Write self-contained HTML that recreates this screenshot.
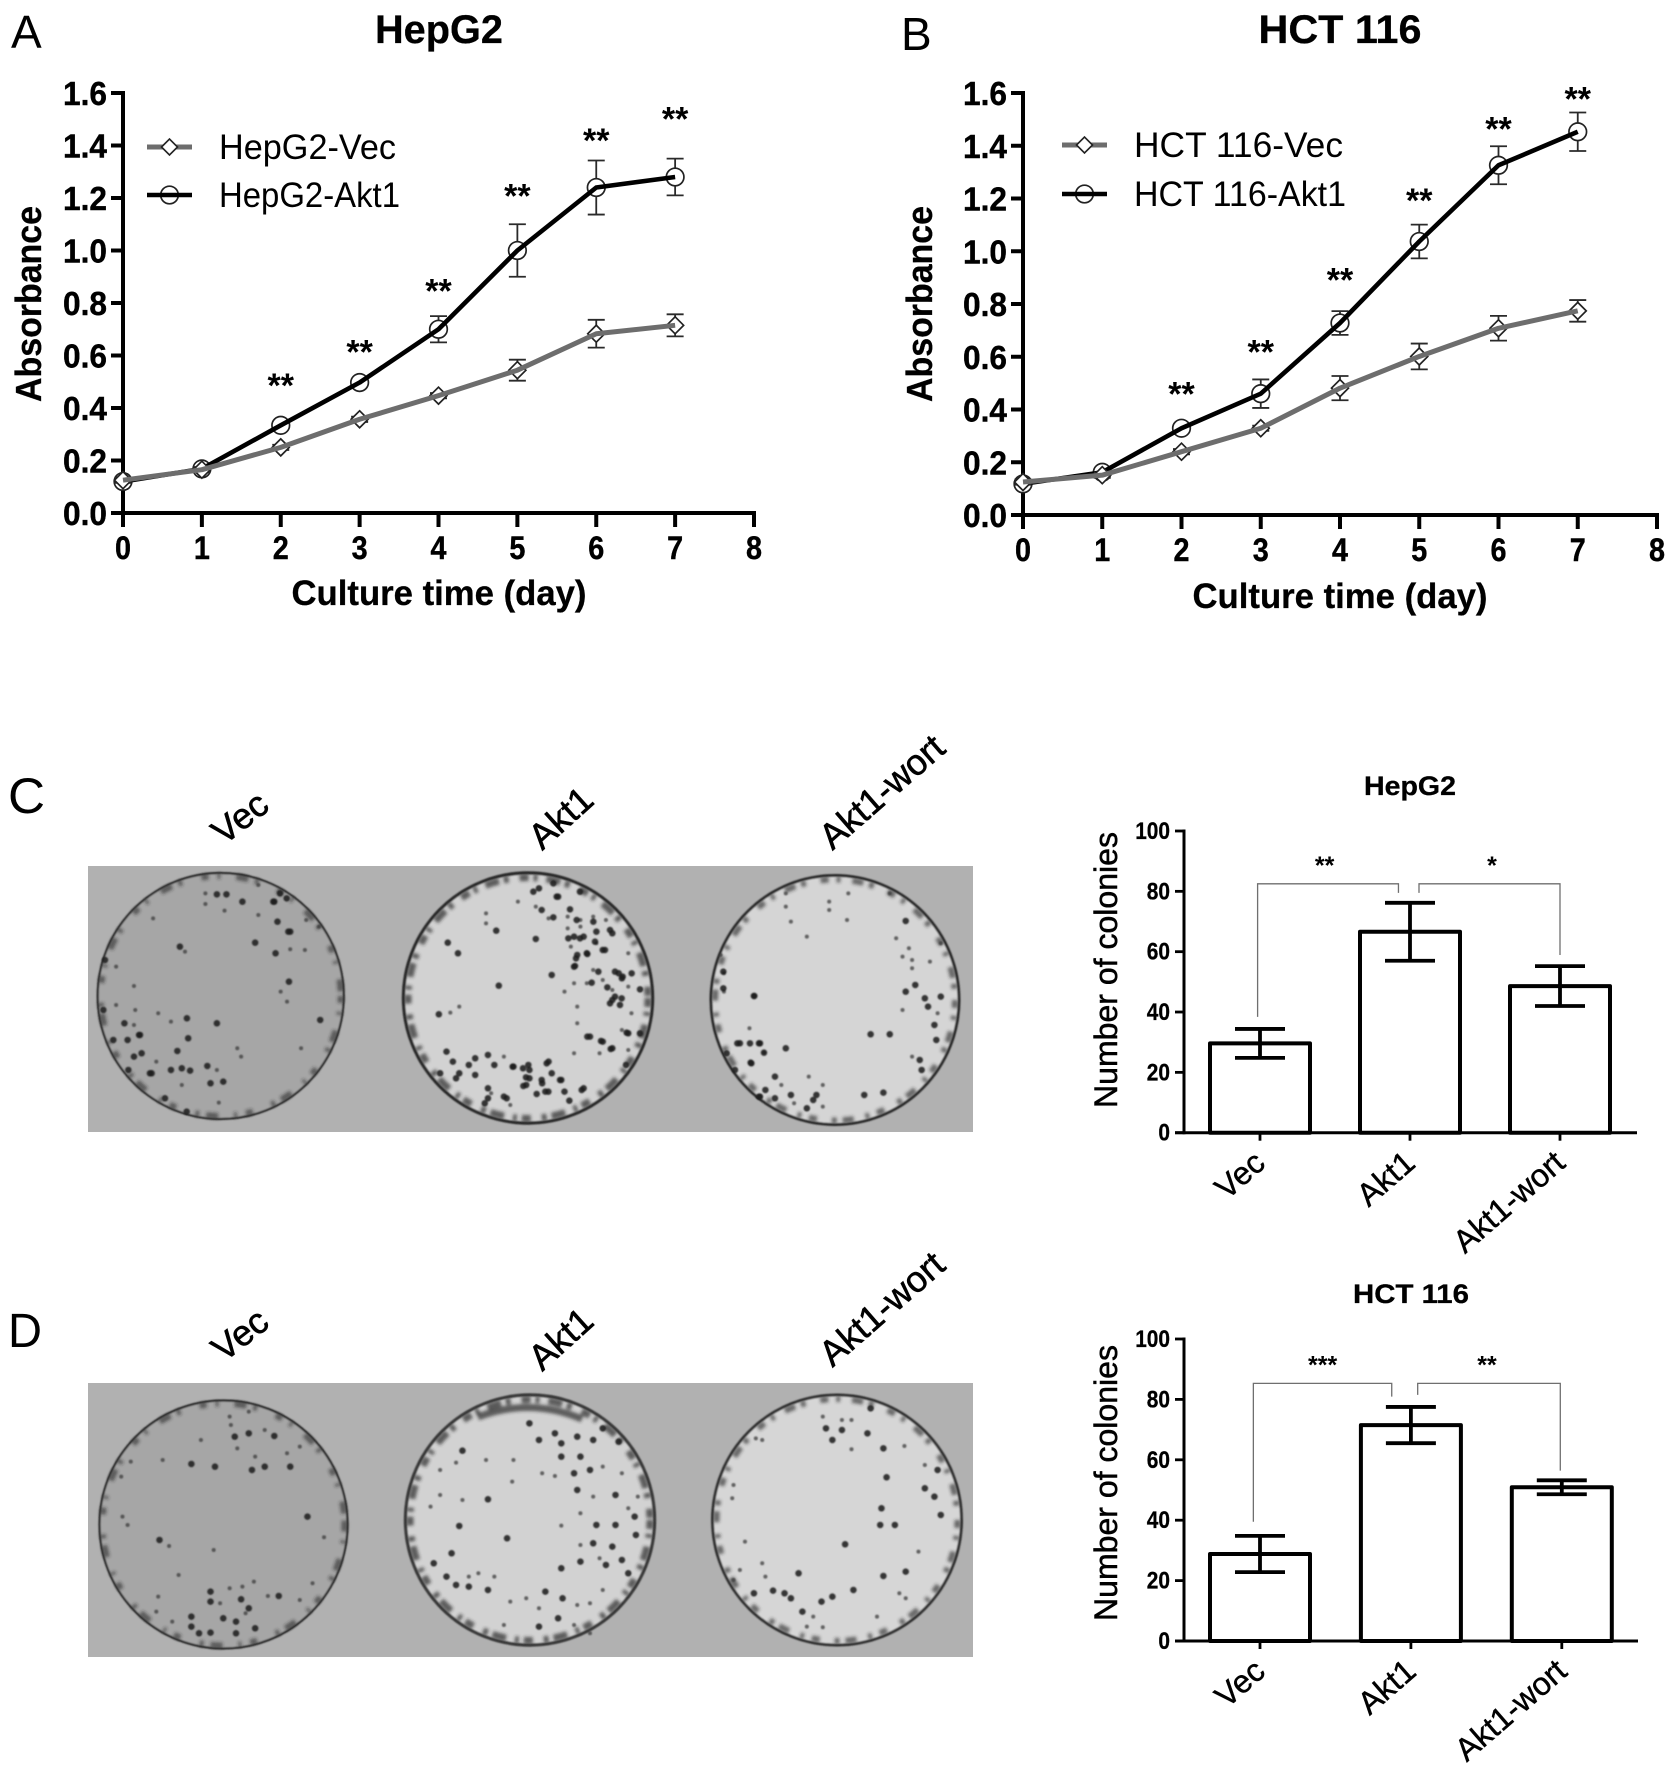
<!DOCTYPE html>
<html lang="en">
<head>
<meta charset="utf-8">
<title>Akt1 growth and colony formation figure</title>
<style>
html,body{margin:0;padding:0;background:#fff;width:1677px;height:1767px;overflow:hidden}
svg{display:block}
text{font-family:"Liberation Sans",Arial,sans-serif;fill:#000}
.dots{fill:none;stroke-linecap:round;vector-effect:non-scaling-stroke}
.sm{stroke:#3a3a3a;stroke-width:4;opacity:.75}
.lg{stroke:#1c1c1c;stroke-width:6.5;opacity:.88}
</style>
</head>
<body>
<svg id="figure" xmlns="http://www.w3.org/2000/svg" width="1677" height="1767" viewBox="0 0 1677 1767">
<defs>
<filter id="soft" x="-2%" y="-2%" width="104%" height="104%"><feGaussianBlur stdDeviation="0.9"/></filter>
<filter id="rimblur" x="-5%" y="-5%" width="110%" height="110%"><feGaussianBlur stdDeviation="1.6"/></filter>
</defs>
<rect width="1677" height="1767" fill="#fff"/>

<text x="11" y="48" font-size="46">A</text>
<text x="901" y="50" font-size="46">B</text>
<text x="8" y="813" font-size="50" textLength="37" lengthAdjust="spacingAndGlyphs">C</text>
<text x="8" y="1347" font-size="48" textLength="34" lengthAdjust="spacingAndGlyphs">D</text>

<g id="chartA"></g>
<g id="chartB"></g>
<g id="chartC"></g>
<g id="chartD"></g>

<!-- Panel C photo -->
<g>
<rect x="88" y="866" width="885" height="266" fill="#b1b1b1"/>
<g filter="url(#soft)">
<ellipse cx="220.7" cy="996" rx="123" ry="123" fill="#a6a6a6" stroke="#222" stroke-width="2.2"/>
<ellipse cx="528" cy="998" rx="124.5" ry="125" fill="#d2d2d2" stroke="#2b2b2b" stroke-width="3.4"/>
<ellipse cx="835" cy="1000" rx="124" ry="124.5" fill="#d5d5d5" stroke="#2b2b2b" stroke-width="3"/>
</g>
<g filter="url(#rimblur)" fill="none" stroke="#2a2a2a">
<ellipse cx="220.7" cy="996" rx="120" ry="120" stroke-width="6" stroke-dasharray="7 9 3 16 12 7 4 20" opacity=".6"/>
<ellipse cx="528" cy="998" rx="120" ry="120.5" stroke-width="7" stroke-dasharray="9 5 4 9 14 5 5 11" opacity=".7"/>
<ellipse cx="835" cy="1000" rx="120" ry="120.5" stroke-width="6" stroke-dasharray="8 8 4 12 11 6 5 15" opacity=".65"/>
</g>
<g filter="url(#soft)">
<g transform="translate(0,720) scale(.6378,.3333)">
<path class="dots lg" d="M282 680h.1M400 668h.1M455 635h.1M380 545h.1M355 523h.1M340 523h.1M435 605h.1M430 545h.1M340 910h.1M278 993h.1M295 955h.1M330 1090h.1M350 1085h.1M235 1060h.1M222 1000h.1M210 1010h.1M218 945h.1M200 960h.1M195 910h.1M268 1050h.1M285 1045h.1M298 1052h.1M453 785h.1M432 700h.1M502 900h.1M293 895h.1M325 1038h.1"/>
<path class="dots sm" d="M290 695h.1M322 520h.1M322 552h.1M352 572h.1M405 495h.1M405 585h.1M478 690h.1M440 815h.1M450 845h.1M268 905h.1M248 880h.1M212 870h.1M372 985h.1M472 985h.1M378 1010h.1M340 1050h.1M343 1148h.1M285 1095h.1M245 1025h.1M182 740h.1M210 798h.1M182 855h.1M240 595h.1M480 600h.1M500 620h.1M455 688h.1M210 915h.1"/>
<path class="dots lg" d="M702 668h.1M778 632h.1M840 657h.1M782 797h.1M688 883h.1M718 700h.1M875 530h.1M845 505h.1M900 650h.1M915 650h.1M935 635h.1M960 640h.1M905 705h.1M900 740h.1M920 700h.1M945 690h.1M970 760h.1M975 775h.1M865 765h.1M960 840h.1M972 855h.1M945 965h.1M960 985h.1M985 940h.1M925 950h.1M805 1040h.1M820 1045h.1M765 1005h.1M745 1015h.1M710 1025h.1M735 1035h.1M700 995h.1M720 1060h.1M745 1065h.1M775 1035h.1M830 1050h.1M860 1025h.1M865 1060h.1M830 1075h.1M850 1090h.1M880 1080h.1M825 1095h.1M765 1105h.1M790 1130h.1M765 1135h.1M715 1075h.1M690 1060h.1M915 1105h.1M885 1115h.1M760 1150h.1M855 1115h.1"/>
<path class="dots sm" d="M762 580h.1M762 610h.1M812 545h.1M840 560h.1M860 595h.1M890 590h.1M910 600h.1M930 590h.1M950 600h.1M910 620h.1M890 625h.1M935 670h.1M985 700h.1M895 680h.1M930 750h.1M945 780h.1M900 790h.1M920 790h.1M885 815h.1M960 810h.1M985 800h.1M905 860h.1M990 880h.1M905 910h.1M975 930h.1M720 860h.1M706 878h.1M770 1120h.1M800 1155h.1M940 1000h.1M985 990h.1M790 1010h.1M900 1000h.1"/>
<path class="dots lg" d="M1182 828h.1M1365 943h.1M1395 943h.1M1420 603h.1M1178 1030h.1M1265 1165h.1M1275 1140h.1M1215 1135h.1M1232 985h.1M1160 970h.1M1190 970h.1M1450 835h.1M1475 830h.1M1465 915h.1M1468 960h.1M1442 1020h.1M1445 1050h.1M1215 1070h.1M1200 1110h.1M1190 1130h.1M1240 1125h.1M1280 1125h.1M1420 815h.1M1435 795h.1M1455 860h.1M1385 1118h.1M1355 1125h.1"/>
<path class="dots sm" d="M1300 545h.1M1300 570h.1M1328 600h.1M1232 520h.1M1232 560h.1M1240 605h.1M1265 650h.1M1330 520h.1M1395 520h.1M1405 655h.1M1425 685h.1M1415 710h.1M1430 720h.1M1458 725h.1M1475 670h.1M1430 745h.1M1130 705h.1M1135 760h.1M1135 815h.1M1175 925h.1M1198 998h.1M1290 1095h.1M1268 1070h.1M1245 1150h.1M1290 1160h.1M1415 870h.1M1470 880h.1M1430 1010h.1M1225 1095h.1"/>
</g>
<g transform="translate(500,870) scale(.3333)">
<path class="dots lg" d="M100 65h.1M170 80h.1M160 40h.1M240 65h.1M125 120h.1M160 142h.1M210 118h.1M230 150h.1M280 155h.1M330 180h.1M240 205h.1M205 205h.1M285 215h.1M315 240h.1M262 252h.1M228 265h.1M225 288h.1M345 305h.1M368 320h.1M295 305h.1M395 310h.1M322 352h.1M275 338h.1M330 400h.1M345 380h.1M365 385h.1M420 358h.1M262 500h.1M303 513h.1M332 537h.1M380 488h.1M420 490h.1M378 585h.1M245 660h.1M208 692h.1M38 590h.1M85 585h.1M140 580h.1M78 622h.1M70 648h.1M125 630h.1M180 630h.1M145 665h.1M110 672h.1M20 685h.1M670 305h.1M670 355h.1M763 378h.1M752 578h.1M780 520h.1M750 520h.1M712 520h.1M792 548h.1M680 550h.1M705 600h.1M780 680h.1"/>
</g>
<g transform="translate(80,860) scale(.3333)">
<path class="dots lg" d="M75 300h.1M70 450h.1M100 540h.1M145 630h.1M215 640h.1M255 715h.1M320 755h.1M600 100h.1M620 115h.1M580 125h.1M625 215h.1M180 525h.1"/>
</g>
</g>
</g>

<!-- Panel D photo -->
<g>
<rect x="88" y="1383" width="885" height="274" fill="#b1b1b1"/>
<g filter="url(#soft)">
<ellipse cx="223.5" cy="1524.5" rx="124" ry="124" fill="#a6a6a6" stroke="#222" stroke-width="2.2"/>
<ellipse cx="530" cy="1520" rx="124.5" ry="125" fill="#d2d2d2" stroke="#3a3a3a" stroke-width="3.4"/>
<ellipse cx="837" cy="1520" rx="124.5" ry="125" fill="#d6d6d6" stroke="#333" stroke-width="3"/>
</g>
<g filter="url(#rimblur)" fill="none" stroke="#2a2a2a">
<ellipse cx="223.5" cy="1524.5" rx="121" ry="121" stroke-width="6" stroke-dasharray="7 9 3 16 12 7 4 20" opacity=".6"/>
<ellipse cx="530" cy="1520" rx="120" ry="120.5" stroke-width="7" stroke-dasharray="9 5 4 9 14 5 5 11" opacity=".7"/>
<ellipse cx="837" cy="1520" rx="120.5" ry="121" stroke-width="6" stroke-dasharray="8 8 4 12 11 6 5 15" opacity=".65"/>
<path d="M478 1417Q530 1397 582 1419" stroke-width="7" opacity=".7"/>
</g>
<g filter="url(#soft)">
<g transform="translate(0,1240) scale(.6378,.3333)">
<path class="dots lg" d="M378 1078h.1M350 1135h.1M300 1130h.1M370 1145h.1M330 1085h.1M390 1105h.1M337 680h.1M300 672h.1M250 900h.1M395 690h.1M415 680h.1M455 680h.1M368 590h.1M390 580h.1M430 588h.1M482 830h.1M437 1068h.1M330 1055h.1M312 1180h.1M330 1178h.1M370 1180h.1M400 1165h.1M300 1160h.1"/>
<path class="dots sm" d="M360 530h.1M362 555h.1M390 515h.1M415 570h.1M315 600h.1M372 625h.1M400 650h.1M450 640h.1M470 620h.1M255 660h.1M205 665h.1M190 710h.1M192 830h.1M200 855h.1M265 918h.1M335 930h.1M508 892h.1M280 1005h.1M398 1025h.1M380 1040h.1M360 1045h.1M345 1090h.1M420 1068h.1M490 1030h.1M248 1070h.1M245 1115h.1M270 1145h.1M385 1120h.1M470 1080h.1"/>
<path class="dots lg" d="M795 895h.1M720 858h.1M765 778h.1M725 632h.1M880 610h.1M905 750h.1M965 765h.1M965 855h.1M997 885h.1M995 830h.1M935 855h.1M930 910h.1M960 920h.1M975 960h.1M950 975h.1M985 1000h.1M708 940h.1M680 970h.1M700 1010h.1M735 1040h.1M765 1050h.1M715 1035h.1M855 1055h.1M882 1075h.1M880 985h.1M910 965h.1M845 1160h.1M875 1135h.1M925 690h.1M900 700h.1M830 550h.1M845 600h.1M870 580h.1M905 590h.1M930 600h.1M970 605h.1M945 565h.1M910 650h.1M880 650h.1"/>
<path class="dots sm" d="M690 690h.1M715 668h.1M762 660h.1M805 660h.1M803 725h.1M690 765h.1M725 780h.1M675 800h.1M850 700h.1M870 708h.1M945 680h.1M975 700h.1M880 857h.1M910 820h.1M930 770h.1M1000 770h.1M985 805h.1M910 915h.1M940 955h.1M825 1075h.1M800 1085h.1M735 1010h.1M750 1000h.1M775 1010h.1M945 1050h.1M925 1090h.1M905 1095h.1M845 1105h.1M790 1155h.1M900 1155h.1M925 1180h.1"/>
<path class="dots lg" d="M1338 1050h.1M1385 625h.1M1365 505h.1M1475 825h.1M1380 855h.1M1403 855h.1M1390 712h.1M1382 805h.1M1325 913h.1M1252 1000h.1M1230 1060h.1M1240 1075h.1M1182 1060h.1M1212 1052h.1M1305 1070h.1M1288 1085h.1M1258 1115h.1M1385 1008h.1M1420 995h.1M1305 600h.1M1320 570h.1M1295 565h.1M1360 580h.1M1470 690h.1M1450 745h.1M1465 770h.1"/>
<path class="dots sm" d="M1440 935h.1M1320 540h.1M1335 540h.1M1290 530h.1M1335 628h.1M1418 618h.1M1450 675h.1M1150 735h.1M1148 775h.1M1168 905h.1M1195 970h.1M1200 1010h.1M1160 990h.1M1150 1020h.1M1275 1130h.1M1265 1160h.1M1290 1162h.1M1375 1130h.1M1410 1060h.1M1420 1075h.1M1185 595h.1M1195 600h.1"/>
</g>
</g>
</g>

<!-- Plate captions -->
<g font-size="36" stroke="#000" stroke-width=".6">
<text text-anchor="middle" transform="translate(240,818) rotate(-38)" y="12">Vec</text>
<text text-anchor="middle" transform="translate(561,818) rotate(-42)" y="12">Akt1</text>
<text text-anchor="middle" transform="translate(882,792) rotate(-41)" y="12">Akt1-wort</text>
<text text-anchor="middle" transform="translate(240,1335) rotate(-38)" y="12">Vec</text>
<text text-anchor="middle" transform="translate(561,1339) rotate(-42)" y="12">Akt1</text>
<text text-anchor="middle" transform="translate(882,1309) rotate(-41)" y="12">Akt1-wort</text>
</g>
</svg>

<script>
// ---- Growth curve data (absorbance by day) ----
const days = [0, 1, 2, 3, 4, 5, 6, 7];
const xTickLabels = [0, 1, 2, 3, 4, 5, 6, 7, 8];
const absorbanceTicks = [0.0, 0.2, 0.4, 0.6, 0.8, 1.0, 1.2, 1.4, 1.6];

const hepVec = [0.125, 0.165, 0.25, 0.357, 0.447, 0.544, 0.683, 0.715];
const hepVecErr = [0.01, 0.01, 0.01, 0.01, 0.01, 0.04, 0.053, 0.042];
const hepAkt = [0.12, 0.168, 0.334, 0.497, 0.70, 1.0, 1.24, 1.28];
const hepAktErr = [0.01, 0.01, 0.01, 0.012, 0.05, 0.10, 0.103, 0.07];
const hepStarLevels = [0.502, 0.631, 0.862, 1.224, 1.437, 1.519];

const hctVec = [0.125, 0.151, 0.24, 0.329, 0.481, 0.601, 0.708, 0.774];
const hctVecErr = [0.01, 0.01, 0.01, 0.01, 0.046, 0.049, 0.047, 0.041];
const hctAkt = [0.118, 0.162, 0.329, 0.46, 0.728, 1.037, 1.326, 1.453];
const hctAktErr = [0.01, 0.01, 0.01, 0.054, 0.045, 0.064, 0.072, 0.073];
const hctStarLevels = [0.476, 0.635, 0.909, 1.21, 1.481, 1.594];

// ---- Colony bar data ----
const barCategories = ['Vec', 'Akt1', 'Akt1-wort'];
const colonyTicks = [0, 20, 40, 60, 80, 100];
const hepColonies = [29.6, 66.6, 48.6];
const hepColoniesErr = [4.8, 9.6, 6.6];
const hctColonies = [28.8, 71.5, 50.9];
const hctColoniesErr = [6, 6, 2.3];
const hepSigLabels = ['**', '*'];
const hctSigLabels = ['***', '**'];
const hepSigCats = [0.431, 1.547];
const hctSigCats = [0.415, 1.504];
const hepBracketLevels = [82.5, 38.4, 79.5, 79.5, 58.9];
const hctBracketLevels = [85.3, 39.5, 80.9, 81.5, 56.4];
const hepBracketCats = [-0.016, 0.923, 1.06, 2.0];
const hctBracketCats = [-0.044, 0.873, 1.045, 1.99];

const SVGNS = 'http://www.w3.org/2000/svg';
function make(parent, tag, attrs, content) {
  const el = document.createElementNS(SVGNS, tag);
  for (const k in attrs) el.setAttribute(k, attrs[k]);
  if (content !== undefined) el.textContent = content;
  parent.appendChild(el);
  return el;
}

function drawSeries(g, xf, yf, values, errors, color, width, shape, name) {
  // error bars
  values.forEach(function (v, i) {
    const x = xf(days[i]);
    const hi = yf(v + errors[i]);
    const lo = yf(v - errors[i]);
    const eb = make(g, 'path', {
      d: 'M' + x + ' ' + hi + 'V' + lo + 'M' + (x - 8.5) + ' ' + hi + 'h17M' + (x - 8.5) + ' ' + lo + 'h17',
      fill: 'none', stroke: '#2a2a2a', 'stroke-width': 1.8
    });
    
    
  });
  // markers
  values.forEach(function (v, i) {
    const x = xf(days[i]);
    const y = yf(v);
    let m;
    if (shape === 'circle') {
      m = make(g, 'circle', { cx: x, cy: y, r: 8.8, fill: '#fff', stroke: '#222', 'stroke-width': 1.7 });
    } else {
      m = make(g, 'path', {
        d: 'M' + (x - 8.5) + ' ' + y + 'L' + x + ' ' + (y - 8.5) + 'L' + (x + 8.5) + ' ' + y + 'L' + x + ' ' + (y + 8.5) + 'Z',
        fill: '#fff', stroke: '#222', 'stroke-width': 1.7
      });
    }
    
    
  });
  // line
  const pts = values.map(function (v, i) { return xf(days[i]) + ',' + yf(v); }).join(' ');
  const line = make(g, 'polyline', { points: pts, fill: 'none', stroke: color, 'stroke-width': width, 'stroke-linejoin': 'round' });
  
  
}

function drawGrowthChart(id, o) {
  const g = document.getElementById(id);
  const xf = function (v) { return o.x0 + (v / 8) * (o.x8 - o.x0); };
  const yf = function (v) { return o.y0 + (v / 1.6) * (o.y16 - o.y0); };

  const title = make(g, 'text', { x: o.titleX, y: 43, 'font-size': 40, 'font-weight': 'bold', 'text-anchor': 'middle', stroke: '#000', 'stroke-width': 0.3, textLength: o.titleW, lengthAdjust: 'spacingAndGlyphs' }, o.title);
  
  

  const yAxis = make(g, 'line', { x1: xf(0), x2: xf(0), y1: yf(1.6) - 2, y2: yf(0) + 2, stroke: '#000', 'stroke-width': 4 });
  
  
  const xAxis = make(g, 'line', { x1: xf(0) - 12, x2: xf(8) + 2, y1: yf(0), y2: yf(0), stroke: '#000', 'stroke-width': 4 });
  
  

  absorbanceTicks.forEach(function (t) {
    const tick = make(g, 'line', { x1: xf(0) - 12, x2: xf(0), y1: yf(t), y2: yf(t), stroke: '#000', 'stroke-width': 4 });
    
    
    const lab = make(g, 'text', { x: xf(0) - 16, y: yf(t) + 12, 'font-size': 33, 'font-weight': 'bold', 'text-anchor': 'end', textLength: 44, lengthAdjust: 'spacingAndGlyphs', stroke: '#000', 'stroke-width': 0.4 }, t.toFixed(1));
    
    
  });
  xTickLabels.forEach(function (t) {
    const tick = make(g, 'line', { x1: xf(t), x2: xf(t), y1: yf(0), y2: yf(0) + 14, stroke: '#000', 'stroke-width': 4 });
    
    
    const lab = make(g, 'text', { x: xf(t), y: yf(0) + 46, 'font-size': 32, 'font-weight': 'bold', 'text-anchor': 'middle', textLength: 16, lengthAdjust: 'spacingAndGlyphs', stroke: '#000', 'stroke-width': 0.4 }, t);
    
    
  });

  const xt = make(g, 'text', { x: o.titleX, y: o.xTitleY, 'font-size': 35, 'font-weight': 'bold', 'text-anchor': 'middle', textLength: 295, lengthAdjust: 'spacingAndGlyphs', stroke: '#000', 'stroke-width': 0.3 }, 'Culture time (day)');
  
  
  const yt = make(g, 'text', { 'font-size': 36, 'font-weight': 'bold', 'text-anchor': 'middle', transform: 'translate(' + o.yTitleX + ',304) rotate(-90)', textLength: 196, lengthAdjust: 'spacingAndGlyphs', stroke: '#000', 'stroke-width': 0.3 }, 'Absorbance');
  
  

  drawSeries(g, xf, yf, o.akt, o.aktErr, '#000', 4.6, 'circle', 'akt1-series');
  drawSeries(g, xf, yf, o.vec, o.vecErr, '#6d6d6d', 5, 'diamond', 'vec-series');

  o.stars.forEach(function (level, i) {
    const s = make(g, 'text', { x: xf(days[i + 2]), y: yf(level) + 16, 'font-size': 34, 'font-weight': 'bold', 'text-anchor': 'middle' }, '**');
    
    
  });

  // legend
  const lx = o.legendX;
  const l1 = make(g, 'line', { x1: lx, x2: lx + 45, y1: o.legendY1, y2: o.legendY1, stroke: '#6d6d6d', 'stroke-width': 5 });
  
  
  const lm1 = make(g, 'path', {
    d: 'M' + (lx + 14.5) + ' ' + o.legendY1 + 'l8 -8l8 8l-8 8Z', fill: '#fff', stroke: '#222', 'stroke-width': 1.6
  });
  
  
  const lc = make(g, 'circle', { cx: lx + 22.5, cy: o.legendY2, r: 8.8, fill: '#fff', stroke: '#222', 'stroke-width': 1.7 });
  
  
  const l2 = make(g, 'line', { x1: lx, x2: lx + 45, y1: o.legendY2, y2: o.legendY2, stroke: '#000', 'stroke-width': 4.6 });
  
  
  const t1 = make(g, 'text', { x: lx + 72, y: o.legendY1 + 12, 'font-size': 35, textLength: o.legendW1, lengthAdjust: 'spacingAndGlyphs' }, o.legend1);
  
  
  const t2 = make(g, 'text', { x: lx + 72, y: o.legendY2 + 12, 'font-size': 35, textLength: o.legendW2, lengthAdjust: 'spacingAndGlyphs' }, o.legend2);
  
  
}

function drawBarChart(id, o) {
  const g = document.getElementById(id);
  const cx = function (i) { return o.c0 + i * o.step; };
  const yf = function (v) { return o.y0 + (v / 100) * (o.y100 - o.y0); };

  const title = make(g, 'text', { x: o.titleX, y: o.titleY, 'font-size': 27, 'font-weight': 'bold', 'text-anchor': 'middle', textLength: o.titleW, lengthAdjust: 'spacingAndGlyphs', stroke: '#000', 'stroke-width': 0.3 }, o.title);
  
  

  o.values.forEach(function (v, i) {
    const bar = make(g, 'rect', { x: cx(i) - 50, y: yf(v), width: 100, height: yf(0) - yf(v), fill: '#fff', stroke: '#000', 'stroke-width': 4, 'stroke-linejoin': 'round' });
    
    
    const hi = yf(v + o.errors[i]);
    const lo = yf(v - o.errors[i]);
    const err = make(g, 'path', {
      d: 'M' + cx(i) + ' ' + hi + 'V' + lo + 'M' + (cx(i) - 25) + ' ' + hi + 'h50M' + (cx(i) - 25) + ' ' + lo + 'h50',
      fill: 'none', stroke: '#000', 'stroke-width': 3.8
    });
    
    
  });

  const yAxis = make(g, 'line', { x1: o.axisX, x2: o.axisX, y1: yf(100) - 1.5, y2: yf(0) + 1.5, stroke: '#000', 'stroke-width': 3 });
  
  
  const xAxis = make(g, 'line', { x1: o.axisX - 9, x2: o.axisEnd, y1: yf(0), y2: yf(0), stroke: '#000', 'stroke-width': 3 });
  
  

  colonyTicks.forEach(function (t) {
    const tick = make(g, 'line', { x1: o.axisX - 9, x2: o.axisX, y1: yf(t), y2: yf(t), stroke: '#000', 'stroke-width': 2.8 });
    
    
    const label = String(t);
    const lab = make(g, 'text', { x: o.axisX - 14, y: yf(t) + 8, 'font-size': 24, 'font-weight': 'bold', 'text-anchor': 'end', textLength: label.length * 11.6, lengthAdjust: 'spacingAndGlyphs', stroke: '#000', 'stroke-width': 0.3 }, label);
    
    
  });

  barCategories.forEach(function (c, i) {
    const tick = make(g, 'line', { x1: cx(i), x2: cx(i), y1: yf(0), y2: yf(0) + 8, stroke: '#000', 'stroke-width': 2.8 });
    
    
    const lab = make(g, 'text', { 'font-size': 32, 'text-anchor': 'end', stroke: '#000', 'stroke-width': 0.45, transform: 'translate(' + (cx(i) + 7) + ',' + (yf(0) + 33) + ') rotate(-41)' }, c);
    
    
  });

  const yt = make(g, 'text', { 'font-size': 32, 'text-anchor': 'middle', stroke: '#000', 'stroke-width': 0.5, transform: 'translate(1117,' + o.yTitleY + ') rotate(-90)', textLength: 276, lengthAdjust: 'spacingAndGlyphs' }, 'Number of colonies');
  
  

  // significance brackets
  const L = o.bracketLevels;
  const C = o.bracketCats;
  const b1 = make(g, 'path', { d: 'M' + cx(C[0]) + ' ' + yf(L[1]) + 'V' + yf(L[0]) + 'H' + cx(C[1]) + 'V' + yf(L[2]), fill: 'none', stroke: '#6f6f6f', 'stroke-width': 1.3 });
  
  
  const b2 = make(g, 'path', { d: 'M' + cx(C[2]) + ' ' + yf(L[3]) + 'V' + yf(L[0]) + 'H' + cx(C[3]) + 'V' + yf(L[4]), fill: 'none', stroke: '#6f6f6f', 'stroke-width': 1.3 });
  
  
  const s1 = make(g, 'text', { x: cx(o.sigCats[0]), y: yf(L[0]) - 10, 'font-size': 25, 'font-weight': 'bold', 'text-anchor': 'middle' }, o.sig[0]);
  
  
  const s2 = make(g, 'text', { x: cx(o.sigCats[1]), y: yf(L[0]) - 10, 'font-size': 25, 'font-weight': 'bold', 'text-anchor': 'middle' }, o.sig[1]);
  
  
}

drawGrowthChart('chartA', {
  x0: 123, x8: 754, y0: 513, y16: 93, title: 'HepG2', titleX: 439, titleW: 128, xTitleY: 605, yTitleX: 41,
  vec: hepVec, vecErr: hepVecErr, akt: hepAkt, aktErr: hepAktErr, stars: hepStarLevels,
  legendX: 147, legendY1: 147, legendY2: 195, legend1: 'HepG2-Vec', legend2: 'HepG2-Akt1', legendW1: 177, legendW2: 181
});
drawGrowthChart('chartB', {
  x0: 1023, x8: 1657, y0: 515, y16: 93, title: 'HCT 116', titleX: 1340, titleW: 163, xTitleY: 608, yTitleX: 932,
  vec: hctVec, vecErr: hctVecErr, akt: hctAkt, aktErr: hctAktErr, stars: hctStarLevels,
  legendX: 1062, legendY1: 145, legendY2: 194, legend1: 'HCT 116-Vec', legend2: 'HCT 116-Akt1', legendW1: 209, legendW2: 212
});
drawBarChart('chartC', {
  c0: 1260, step: 150, y0: 1132.7, y100: 831, axisX: 1184, axisEnd: 1637, title: 'HepG2', titleX: 1410, titleY: 795, titleW: 92,
  yTitleY: 970, values: hepColonies, errors: hepColoniesErr, bracketLevels: hepBracketLevels, bracketCats: hepBracketCats, sig: hepSigLabels, sigCats: hepSigCats
});
drawBarChart('chartD', {
  c0: 1260, step: 150.9, y0: 1641, y100: 1339, axisX: 1184, axisEnd: 1638, title: 'HCT 116', titleX: 1411, titleY: 1303, titleW: 116,
  yTitleY: 1483, values: hctColonies, errors: hctColoniesErr, bracketLevels: hctBracketLevels, bracketCats: hctBracketCats, sig: hctSigLabels, sigCats: hctSigCats
});
</script>
</body>
</html>
